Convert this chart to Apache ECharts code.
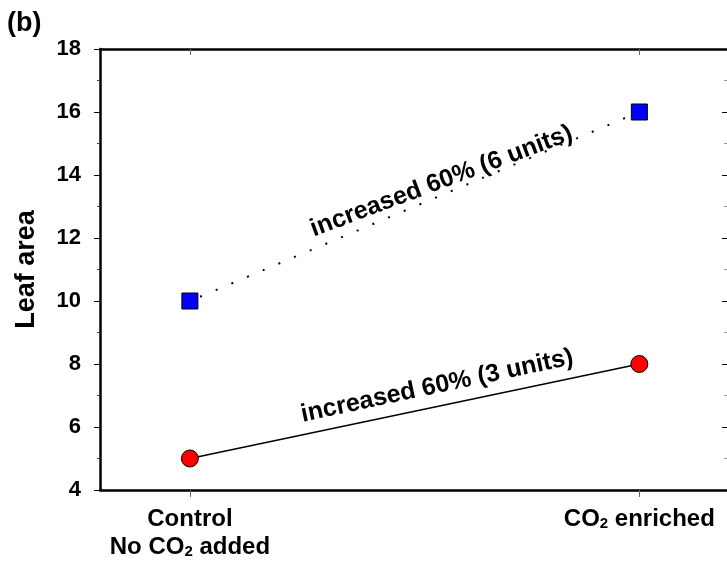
<!DOCTYPE html>
<html><head><meta charset="utf-8">
<script src="https://cdn.jsdelivr.net/npm/echarts@6/dist/echarts.min.js"></script>
<style>html,body{margin:0;padding:0;background:#fff}#c{width:727px;height:562px}</style>
</head><body><div id="c"></div>
<script>
// Data
var categoryPositions = [0, 1];
var controlLabel = ['Control', 'No CO', '2', ' added'];
var enrichedLabel = ['CO', '2', ' enriched'];
var leafAreaLow = [5, 8];      // red circles
var leafAreaHigh = [10, 16];   // blue squares
var yTicks = [4, 6, 8, 10, 12, 14, 16, 18];
var annotLow = { text: 'increased 60% (3 units)', at: [0.55, 7.3] };
var annotHigh = { text: 'increased 60% (6 units)', at: [0.56, 13.8] };

var F = 'Liberation Sans, Arial, Helvetica, sans-serif';
var chart = echarts.init(document.getElementById('c'), null, {renderer: 'canvas'});

function pairs(vals) { return vals.map(function (v, i) { return [categoryPositions[i], v]; }); }

var richStyles = {
  b: {fontFamily: F, fontWeight: 'bold', fontSize: 24, color: '#000', lineHeight: 28},
  sub: {fontFamily: F, fontWeight: 'bold', fontSize: 15, color: '#000', padding: [10, 0, 0, 0], lineHeight: 28}
};

var option = {
  animation: false,
  backgroundColor: '#fff',
  grid: {left: 100, top: 49, right: 0, bottom: 72, containLabel: false},
  graphic: [],
  xAxis: [{
    type: 'value', position: 'bottom', min: -0.2, max: 1.195,
    axisLine: {show: true, onZero: false, lineStyle: {color: '#000', width: 2.5}},
    axisTick: {show: true, inside: false, length: 7, customValues: categoryPositions, lineStyle: {color: '#666', width: 1}},
    axisLabel: {show: true, margin: 15, customValues: categoryPositions,
      formatter: function (v) {
        if (Math.abs(v) < 1e-6) return '{b|' + controlLabel[0] + '}\n{b|' + controlLabel[1] + '}{sub|' + controlLabel[2] + '}{b|' + controlLabel[3] + '}';
        return '{b|' + enrichedLabel[0] + '}{sub|' + enrichedLabel[1] + '}{b|' + enrichedLabel[2] + '}';
      },
      rich: richStyles},
    splitLine: {show: false}
  }, {
    type: 'value', position: 'top', min: -0.2, max: 1.195,
    axisLine: {show: true, onZero: false, lineStyle: {color: '#000', width: 2.5}},
    axisTick: {show: true, inside: true, length: 6, customValues: categoryPositions, lineStyle: {color: '#666', width: 1}},
    axisLabel: {show: false},
    splitLine: {show: false}
  }],
  yAxis: [{
    type: 'value', position: 'left', min: 4, max: 18, interval: 2,
    name: 'Leaf area', nameLocation: 'middle', nameGap: 60, nameRotate: 90,
    nameTextStyle: {fontFamily: F, fontWeight: 'bold', fontSize: 27, color: '#000'},
    axisLine: {show: true, onZero: false, lineStyle: {color: '#000', width: 2.5}},
    axisTick: {show: true, inside: false, length: 6, lineStyle: {color: '#000', width: 1}},
    minorTick: {show: true, splitNumber: 2, length: 3, lineStyle: {color: '#444', width: 1}},
    axisLabel: {margin: 19, fontFamily: F, fontWeight: 'bold', fontSize: 22, color: '#000',
      customValues: yTicks},
    splitLine: {show: false}, minorSplitLine: {show: false}
  }, {
    type: 'value', position: 'right', min: 4, max: 18, interval: 2,
    axisLine: {show: false, onZero: false},
    axisTick: {show: true, inside: true, length: 5, lineStyle: {color: '#000', width: 1}},
    minorTick: {show: true, splitNumber: 2, length: 3, lineStyle: {color: '#999', width: 1}},
    axisLabel: {show: false},
    splitLine: {show: false}
  }],
  series: [{
    type: 'line', data: pairs(leafAreaHigh), xAxisIndex: 0, yAxisIndex: 0,
    symbol: 'rect', symbolSize: 16,
    itemStyle: {color: '#0000ff', borderColor: '#000', borderWidth: 1},
    lineStyle: {color: '#000', width: 2, type: [2, 15], cap: 'butt', dashOffset: 6},
    z: 3
  }, {
    type: 'line', data: pairs(leafAreaLow), xAxisIndex: 0, yAxisIndex: 0,
    symbol: 'circle', symbolSize: 17,
    itemStyle: {color: '#ff0000', borderColor: '#000', borderWidth: 1},
    lineStyle: {color: '#000', width: 1.5},
    z: 3
  }]
};
chart.setOption(option);

function annot(a, deg) {
  var p = chart.convertToPixel({gridIndex: 0}, a.at);
  return {type: 'text', x: p[0], y: p[1], rotation: deg * Math.PI / 180,
    style: {text: a.text, fontFamily: F, fontWeight: 'bold', fontSize: 25, fill: '#000', align: 'center', verticalAlign: 'middle'}};
}
chart.setOption({graphic: [
  {type: 'text', left: 7, top: 10, style: {text: '(b)', fontFamily: F, fontWeight: 'bold', fontSize: 27, fill: '#000'}},
  annot(annotLow, 12),
  annot(annotHigh, 20.5)
]});
</script></body></html>
